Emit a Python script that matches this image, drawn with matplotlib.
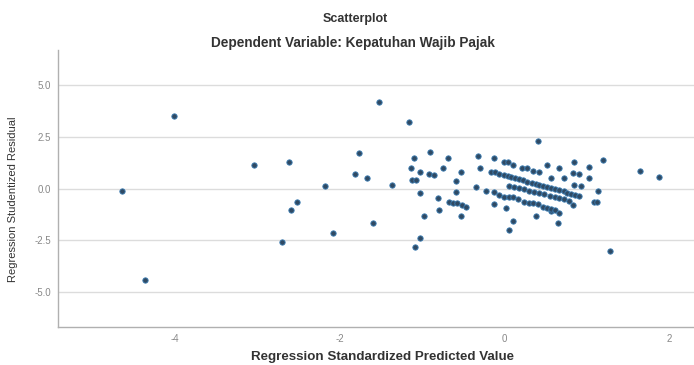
import numpy as np
import matplotlib
matplotlib.use("Agg")
import matplotlib.pyplot as plt

plt.rcParams['font.family'] = ['Liberation Sans', 'DejaVu Sans']

# outliers on the far left
left_x = [-4.64, -4.01, -4.36, -3.04, -2.70, -2.59, -2.52, -2.62, -2.18, -2.08,
          -1.76, -1.81, -1.67, -1.60, -1.52, -1.37, -1.16]
left_y = [-0.14, 3.53, -4.44, 1.16, -2.61, -1.06, -0.63, 1.30, 0.10, -2.17,
          1.74, 0.72, 0.53, -1.69, 4.20, 0.19, 3.24]

# points between -1.2 and -0.2
mid_x = [-1.10, -0.90, -0.69, -0.32, -1.13, -1.03, -0.92, -0.85, -0.74, -0.53,
         -0.29, -1.12, -1.07, -0.59, -1.02, -0.59, -0.35, -0.80, -0.67, -0.62,
         -0.57, -0.52, -0.46, -0.79, -0.98, -0.53, -1.02, -1.09]
mid_y = [1.50, 1.79, 1.50, 1.59, 0.97, 0.82, 0.72, 0.63, 1.01, 0.82,
         1.01, 0.43, 0.43, 0.34, -0.24, -0.19, 0.05, -0.48, -0.63, -0.68,
         -0.72, -0.82, -0.87, -1.06, -1.35, -1.35, -2.37, -2.85]

# loose points around the dense cluster
loose_x = [-0.12, -0.01, 0.04, 0.11, 0.21, 0.27, 0.35, 0.42, 0.52, 0.67, 0.85,
           1.03, 0.57, 0.72, 0.84, 0.91, 1.03, 0.85, 0.93, 1.14, 1.09, 1.12,
           0.84, 1.20, 0.41, 1.65, 1.88, -0.12, 0.02, 0.39, 0.11, 0.06, 0.65,
           0.57, 1.28]
loose_y = [1.50, 1.30, 1.26, 1.16, 1.01, 0.97, 0.87, 0.82, 1.16, 0.97, 1.30,
           1.06, 0.53, 0.53, 0.77, 0.68, 0.53, 0.19, 0.10, -0.14, -0.63, -0.63,
           -0.80, 1.40, 2.32, 0.87, 0.58, -0.77, -0.92, -1.35, -1.55, -2.03, -1.69,
           -1.11, -3.04]

# upper dense band
band1_x = [-0.16, -0.11, -0.06, -0.01, 0.04, 0.08, 0.13, 0.18, 0.23, 0.28, 0.33,
           0.38, 0.42, 0.47, 0.52, 0.57, 0.62, 0.67, 0.72, 0.76, 0.81, 0.86, 0.91]
band1_y = [0.82, 0.78, 0.71, 0.66, 0.62, 0.55, 0.49, 0.45, 0.39, 0.33, 0.29,
           0.24, 0.17, 0.13, 0.08, 0.02, -0.04, -0.08, -0.14, -0.21, -0.25, -0.30, -0.36]

# middle dense band
band2_x = [0.06, 0.12, 0.18, 0.24, 0.30, 0.36, 0.42, 0.48, 0.55, 0.61, 0.67, 0.73, 0.79]
band2_y = [0.14, 0.09, 0.02, -0.03, -0.10, -0.15, -0.22, -0.28, -0.34, -0.40,
           -0.46, -0.52, -0.58]

# lower band
band3_x = [-0.22, -0.12, -0.06, 0.00, 0.06, 0.11, 0.17, 0.24, 0.30, 0.35, 0.41,
           0.47, 0.52, 0.57, 0.62, 0.67]
band3_y = [-0.14, -0.19, -0.29, -0.39, -0.41, -0.43, -0.53, -0.63, -0.68, -0.72,
           -0.77, -0.87, -0.92, -1.01, -1.06, -1.16]

xs = np.concatenate([left_x, mid_x, loose_x, band1_x, band2_x, band3_x])
ys = np.concatenate([left_y, mid_y, loose_y, band1_y, band2_y, band3_y])

fig = plt.figure(figsize=(6.94, 3.65), dpi=100)
ax = fig.add_axes([0.0836, 0.104, 0.916, 0.759])

for v in [-5.0, -2.5, 0.0, 2.5, 5.0]:
    ax.axhline(v, color='#dcdcdc', lw=1.0, zorder=0)

ax.scatter(xs, ys, s=15, color='#2f4a64', edgecolors='#3d7fb5', linewidths=0.6, zorder=3)

ax.set_xlim(-5.42, 2.3)
ax.set_ylim(-6.7, 6.7)
ax.set_xticks([-4, -2, 0, 2])
ax.set_xticklabels(['-4', '-2', '0', '2'])
ax.set_yticks([-5.0, -2.5, 0.0, 2.5, 5.0])
ax.set_yticklabels(['-5.0', '-2.5', '0.0', '2.5', '5.0'])
ax.tick_params(axis='both', length=0, labelsize=7, colors='#888888', pad=5)

for s in ['top', 'right']:
    ax.spines[s].set_visible(False)
for s in ['left', 'bottom']:
    ax.spines[s].set_color('#b0b0b0')
    ax.spines[s].set_linewidth(1.0)

fig.text(0.512, 0.948, 'Scatterplot', ha='center', va='center',
         fontsize=9, fontweight='bold', color='#333333')
fig.text(0.508, 0.882, 'Dependent Variable: Kepatuhan Wajib Pajak', ha='center',
         va='center', fontsize=9.8, fontweight='bold', color='#333333')
ax.set_xlabel('Regression Standardized Predicted Value', fontsize=9.6,
              fontweight='bold', color='#333333', va='center')
ax.xaxis.set_label_coords(0.51, -0.107)
ax.set_ylabel('Regression Studentized Residual', fontsize=8, color='#333333')
ax.yaxis.set_label_coords(-0.063, 0.46)

fig.savefig('out.png', dpi=100)
